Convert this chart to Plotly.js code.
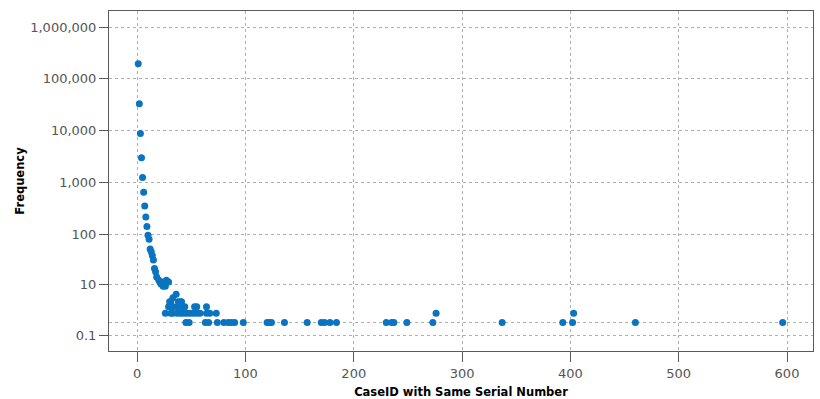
<!DOCTYPE html>
<html><head><meta charset="utf-8">
<script src="https://cdn.plot.ly/plotly-3.0.1.min.js"></script>
<style>html,body{margin:0;padding:0;background:#fff}#chart{width:820px;height:399px}</style>
</head><body><div id="chart"></div>
<script>
// CaseID counts (x) and how often each count occurs (y)
const caseIds = [
  1,2,3,4,5,6,7,8,9,10,11,12,13,14,15,16,
  17,18,20,21,22,24,24,26,27,29,
  36,33,31,30,38,40,41,
  29,33,37,41,44,53,55,64,
  26,31,33,37,40,43,46,49,52,55,58,64,67,73,276,403,
  45,48,63,66,74,80,84,87,90,98,120,122,124,136,157,170,173,178,184,230,235,237,249,273,337,393,402,460,596
];
const frequencies = [
  195000,33000,8800,3000,1250,650,350,215,140,95,79,51,45,38,31,21,
  18,14,12,11,10,11,9,9,12,11,
  6,5,4,4,4,4,4,
  3,3,3,3,3,3,3,3,
  2,2,2,2,2,2,2,2,2,2,2,2,2,2,2,2,
  1,1,1,1,1,1,1,1,1,1,1,1,1,1,1,1,1,1,1,1,1,1,1,1,1,1,1,1,1
];
const xTickValues = [0,100,200,300,400,500,600];
const yTickValues = [0.1,10,100,1000,10000,100000,1000000];
const yTickLabels = ['0.1','10','100','1,000','10,000','100,000','1,000,000'];
const yExtraGrid = [1];

// SPSS-style "safe log" scale: log10(1 + y)
const safeLog = v => v + 1;

const gridCol = '#b0b0b0';
const lineCol = '#5a5a5a';
const tickFont = {family:'DejaVu Sans', size:13, color:'#555555'};
const titleFont = {family:'DejaVu Sans', size:11.5, color:'#000', weight:'bold'};

Plotly.newPlot('chart', [{
  type:'scatter', mode:'markers',
  x: caseIds, y: frequencies.map(safeLog),
  marker:{size:7, color:'#0a74c0', line:{width:0}},
  hoverinfo:'skip'
}], {
  width:820, height:399,
  margin:{l:109, r:7, t:11, b:48},
  paper_bgcolor:'#fff', plot_bgcolor:'#fff',
  showlegend:false,
  xaxis:{
    range:[-26,624], tickmode:'array', tickvals:xTickValues,
    ticks:'outside', ticklen:10, tickcolor:lineCol, tickwidth:1,
    showline:true, linecolor:lineCol, linewidth:1, mirror:true,
    showgrid:true, gridcolor:gridCol, griddash:'3px,3px', gridwidth:1,
    zeroline:false, tickfont:tickFont,
    title:{text:'CaseID with Same Serial Number', font:titleFont, standoff:8}
  },
  yaxis:{
    type:'log', range:[-0.251,6.309],
    tickmode:'array', tickvals:yTickValues.map(safeLog), ticktext:yTickLabels,
    ticks:'outside', ticklen:9, tickcolor:lineCol, tickwidth:1,
    showline:true, linecolor:lineCol, linewidth:1, mirror:true,
    showgrid:true, gridcolor:gridCol, griddash:'3px,3px', gridwidth:1,
    minor:{tickmode:'array', tickvals:yExtraGrid.map(safeLog), showgrid:true, gridcolor:gridCol, griddash:'3px,3px', ticklen:0},
    zeroline:false, tickfont:tickFont,
    title:{text:'Frequency', font:titleFont, standoff:3}
  }
}, {displayModeBar:false, staticPlot:true});
</script>
</body></html>
